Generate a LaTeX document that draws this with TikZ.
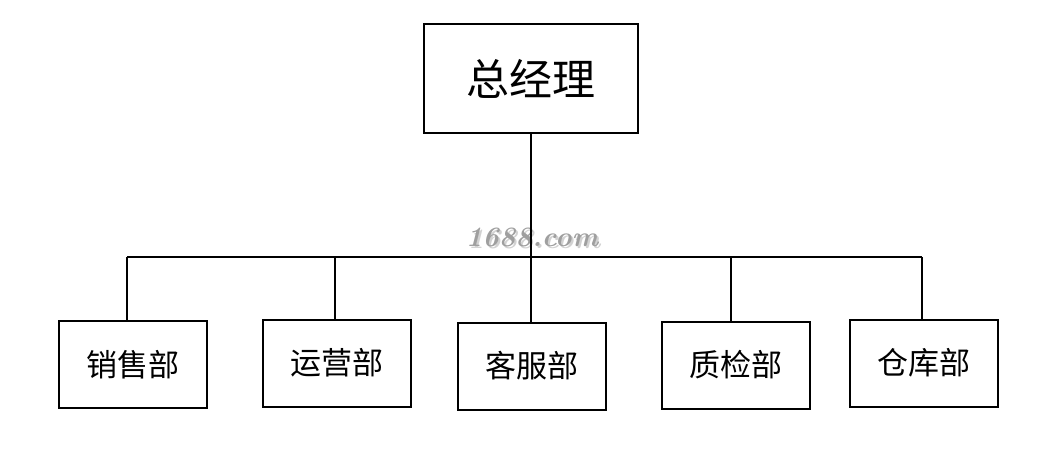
\documentclass[tikz,border=0pt]{standalone}
\usepackage{fontspec}
\newfontfamily\cjk{Noto Sans CJK SC}[Scale=1.0]
\begin{document}
\begin{tikzpicture}[x=1pt,y=-1pt,
  box/.style={draw=black, line width=2pt, minimum width=148pt, minimum height=87pt, inner sep=0pt, font=\cjk\fontsize{31}{34}\selectfont},
  topbox/.style={draw=black, line width=2pt, minimum width=214pt, minimum height=109pt, inner sep=0pt, font=\cjk\fontsize{43}{46}\selectfont},
  wmark/.style={font=\bfseries\itshape\fontsize{28}{30}\selectfont, inner sep=0pt},
  link/.style={line width=2pt}]
\useasboundingbox (0,0) rectangle (1060,470);
\fill[white] (0,0) rectangle (1060,470);
\node[wmark, text=gray!35] (wms) at (534,239) {1688.com};
\node[wmark, text=gray!75] (wm) at (532,237) {1688.com};
\node[topbox] (gm) at (531,78.5) {总经理};
\node[box] (d1) at (132.5,364.5) {销售部};
\node[box] (d2) at (336.5,363) {运营部};
\node[box] (d3) at (531.5,366) {客服部};
\node[box] (d4) at (736,365) {质检部};
\node[box] (d5) at (923.5,363) {仓库部};
\coordinate (bus) at (531,257);
\coordinate (bl) at (127,257);
\coordinate (br) at (922,257);
\coordinate (b2) at (335,257);
\coordinate (b4) at (731,257);
\draw[link] (gm.south) -- (bus);
\draw[link] (bl) -- (br);
\draw[link] (bl) -- (bl |- d1.north);
\draw[link] (b2) -- (b2 |- d2.north);
\draw[link] (bus) -- (bus |- d3.north);
\draw[link] (b4) -- (b4 |- d4.north);
\draw[link] (br) -- (br |- d5.north);
\end{tikzpicture}
\end{document}
